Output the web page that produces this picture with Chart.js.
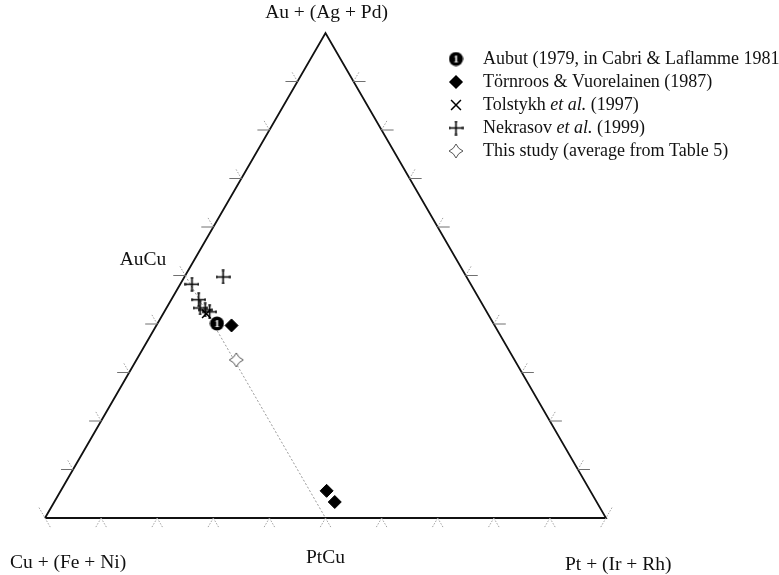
<!DOCTYPE html>
<html>
<head>
<meta charset="utf-8">
<title>Au - Cu - Pt ternary</title>
<script src="https://cdn.jsdelivr.net/npm/chart.js@4.4.1/dist/chart.umd.min.js"></script>
<style>
  html, body { margin: 0; padding: 0; background: #fff; }
  #wrap { width: 779px; height: 575px; position: relative; }
</style>
</head>
<body>
<div id="wrap"><canvas id="ternaryCanvas"></canvas></div>
<script>
// ------------------- Data (at. %) -------------------//
var aubutAu = [40.1], aubutPt = [10.6], aubutCu = [49.3];

var tornroosAu = [39.7, 5.6, 3.3];
var tornroosPt = [13.4, 47.4, 50.0];
var tornroosCu = [46.9, 47.0, 46.7];

var tolstykhAu = [42.1], tolstykhPt = [7.7], tolstykhCu = [50.2];

var nekrasovAu = [48.2, 45.0, 43.3, 42.9, 42.5, 49.7];
var nekrasovPt = [2.1, 4.9, 6.0, 7.1, 8.1, 6.9];
var nekrasovCu = [49.7, 50.1, 50.7, 50.0, 49.4, 43.4];

var studyAu = [32.6], studyPt = [17.8], studyCu = [49.6];

// AuCu -> PtCu tie line
var tieAu = [50, 0], tiePt = [0, 50], tieCu = [50, 50];
var tieLabels = ['AuCu', 'PtCu'];

// corners: Cu (bottom left), Pt (bottom right), Au (top)
var cornerAu = [0, 0, 100, 0], cornerPt = [0, 100, 0, 0], cornerCu = [100, 0, 0, 100];
var cornerLabels = ['Au + (Ag + Pd)', 'Cu + (Fe + Ni)', 'Pt + (Ir + Rh)'];

var tickSteps = [10, 20, 30, 40, 50, 60, 70, 80, 90];

var legendItems = [
  [['Aubut (1979, in Cabri & Laflamme 1981)', false]],
  [['Törnroos & Vuorelainen (1987)', false]],
  [['Tolstykh ', false], ['et al.', true], [' (1997)', false]],
  [['Nekrasov ', false], ['et al.', true], [' (1999)', false]],
  [['This study (average from Table 5)', false]]
];

var H = Math.sqrt(3) / 2;
var serif = "'Liberation Serif', 'Times New Roman', serif";

// ternary -> cartesian, triangle with unit base
function toXY( au, pt, cu ) {
  var pts = [];
  for (var i = 0; i < au.length; i++) {
    var s = au[i] + pt[i] + cu[i];
    pts.push({ x: (pt[i] + au[i] / 2) / s, y: au[i] / s * H });
  }
  return pts;
}

// ------------------- Marker images -------------------//
function circledOne() {
  var c = document.createElement('canvas');
  c.width = 15; c.height = 15;
  var g = c.getContext('2d');
  g.fillStyle = '#000';
  g.beginPath(); g.arc(7.5, 7.5, 7, 0, Math.PI * 2); g.fill();
  g.fillStyle = '#fff';
  g.font = 'bold 11px ' + serif;
  g.textAlign = 'center'; g.textBaseline = 'middle';
  g.fillText('1', 7.5, 8);
  return c;
}

function starFour() {
  var c = document.createElement('canvas');
  c.width = 16; c.height = 16;
  var g = c.getContext('2d');
  var m = 8, r = 7, k = 2;
  g.beginPath();
  g.moveTo(m, m - r);
  g.quadraticCurveTo(m + k, m - k, m + r, m);
  g.quadraticCurveTo(m + k, m + k, m, m + r);
  g.quadraticCurveTo(m - k, m + k, m - r, m);
  g.quadraticCurveTo(m - k, m - k, m, m - r);
  g.closePath();
  g.fillStyle = '#fff'; g.fill();
  g.strokeStyle = '#555'; g.lineWidth = 1; g.stroke();
  return c;
}

function serifCross() {
  var c = document.createElement('canvas');
  c.width = 15; c.height = 15;
  var g = c.getContext('2d');
  g.strokeStyle = '#000'; g.lineWidth = 1.6;
  g.beginPath();
  g.moveTo(0.5, 7.5); g.lineTo(14.5, 7.5);
  g.moveTo(7.5, 0.5); g.lineTo(7.5, 14.5);
  g.stroke();
  g.lineWidth = 1.2;
  g.beginPath();
  g.moveTo(1, 6); g.lineTo(1, 9);
  g.moveTo(14, 6); g.lineTo(14, 9);
  g.moveTo(6, 1); g.lineTo(9, 1);
  g.moveTo(6, 14); g.lineTo(9, 14);
  g.stroke();
  return c;
}

var oneImg = circledOne(), starImg = starFour(), plusImg = serifCross();

// ------------------- Ticks, labels, legend -------------------//
var ternaryDecor = {
  id: 'ternaryDecor',
  afterDraw: function( chart ) {
    var ctx = chart.ctx, xs = chart.scales.x, ys = chart.scales.y;
    function px( x, y ) { return [xs.getPixelForValue(x), ys.getPixelForValue(y)]; }
    var L = 12, dx = 0.5 * L, dy = H * L;

    function seg( x0, y0, x1, y1, dotted ) {
      ctx.save();
      ctx.strokeStyle = dotted ? '#a0a0a0' : '#707070';
      ctx.lineWidth = 1;
      if (dotted) ctx.setLineDash([1.5, 1.5]);
      ctx.beginPath(); ctx.moveTo(x0, y0); ctx.lineTo(x1, y1); ctx.stroke();
      ctx.restore();
    }

    tickSteps.forEach(function( t ) {
      var f = t / 100;
      var l = px(f / 2, f * H);          // left edge
      seg(l[0], l[1], l[0] - L, l[1], false);
      seg(l[0], l[1], l[0] - dx, l[1] - dy, true);
      var r = px(1 - f / 2, f * H);      // right edge
      seg(r[0], r[1], r[0] + L, r[1], false);
      seg(r[0], r[1], r[0] + dx, r[1] - dy, true);
      var b = px(f, 0);                  // bottom edge
      seg(b[0], b[1], b[0] - dx, b[1] + dy, true);
      seg(b[0], b[1], b[0] + dx, b[1] + dy, true);
    });
    var bl = px(0, 0), br = px(1, 0);
    seg(bl[0] - dx, bl[1] - dy, bl[0] + dx, bl[1] + dy, true);
    seg(br[0] + dx, br[1] - dy, br[0] - dx, br[1] + dy, true);

    ctx.save();
    ctx.fillStyle = '#111';
    ctx.font = '19.5px ' + serif;
    ctx.textBaseline = 'middle';
    var top = px(0.5, H);
    ctx.textAlign = 'center';
    ctx.fillText(cornerLabels[0], top[0] + 1, top[1] - 20);
    ctx.textAlign = 'left';
    ctx.fillText(cornerLabels[1], bl[0] - 35, bl[1] + 45);
    ctx.fillText(cornerLabels[2], br[0] - 41, br[1] + 47);
    var auCu = px(0.25, H / 2);
    ctx.textAlign = 'right';
    ctx.fillText(tieLabels[0], auCu[0] - 19, auCu[1] - 16);
    var ptCu = px(0.5, 0);
    ctx.textAlign = 'center';
    ctx.fillText(tieLabels[1], ptCu[0], ptCu[1] + 40);

    // legend
    var markers = [
      { pointStyle: oneImg },
      { pointStyle: 'rectRot', radius: 6 },
      { pointStyle: 'crossRot', radius: 7 },
      { pointStyle: plusImg },
      { pointStyle: starImg }
    ];
    var lx = 456, ly = 59, step = 23;
    legendItems.forEach(function( parts, i ) {
      var y = ly + i * step;
      ctx.fillStyle = '#000'; ctx.strokeStyle = '#000'; ctx.lineWidth = 1.5;
      Chart.helpers.drawPoint(ctx, {
        pointStyle: markers[i].pointStyle, radius: markers[i].radius || 7,
        rotation: 0, borderWidth: 1.5
      }, lx, y);
      var x = 483;
      ctx.fillStyle = '#111';
      ctx.textAlign = 'left';
      parts.forEach(function( p ) {
        ctx.font = (p[1] ? 'italic ' : '') + '18px ' + serif;
        ctx.fillText(p[0], x, y);
        x += ctx.measureText(p[0]).width;
      });
    });
    ctx.restore();
  }
};

// ------------------- Chart -------------------//
var ctx = document.getElementById('ternaryCanvas');
var myChart = new Chart(ctx, {
  type: 'scatter',
  data: {
    datasets: [
      {
        label: 'Aubut (1979)',
        data: toXY(aubutAu, aubutPt, aubutCu),
        pointStyle: oneImg
      },
      {
        label: 'Törnroos & Vuorelainen (1987)',
        data: toXY(tornroosAu, tornroosPt, tornroosCu),
        pointStyle: 'rectRot', pointRadius: 6.5,
        backgroundColor: '#000', borderColor: '#000', borderWidth: 1
      },
      {
        label: 'Tolstykh et al. (1997)',
        data: toXY(tolstykhAu, tolstykhPt, tolstykhCu),
        pointStyle: 'crossRot', pointRadius: 6,
        borderColor: '#000', borderWidth: 1.5
      },
      {
        label: 'Nekrasov et al. (1999)',
        data: toXY(nekrasovAu, nekrasovPt, nekrasovCu),
        pointStyle: plusImg
      },
      {
        label: 'This study',
        data: toXY(studyAu, studyPt, studyCu),
        pointStyle: starImg
      },
      {
        label: 'tie line',
        data: toXY(tieAu, tiePt, tieCu),
        showLine: true, pointRadius: 0,
        borderColor: '#999', borderWidth: 1, borderDash: [2, 2]
      },
      {
        label: 'triangle',
        data: toXY(cornerAu, cornerPt, cornerCu),
        showLine: true, pointRadius: 0,
        borderColor: '#111', borderWidth: 1.8
      }
    ]
  },
  options: {
    responsive: true,
    maintainAspectRatio: false,
    animation: false,
    events: [],
    clip: false,
    layout: { padding: { left: 45, right: 173, top: 33, bottom: 57 } },
    scales: {
      x: { type: 'linear', min: 0, max: 1, display: false },
      y: { type: 'linear', min: 0, max: H, display: false }
    },
    plugins: {
      legend: { display: false },
      tooltip: { enabled: false }
    }
  },
  plugins: [ternaryDecor]
});
</script>
</body>
</html>
